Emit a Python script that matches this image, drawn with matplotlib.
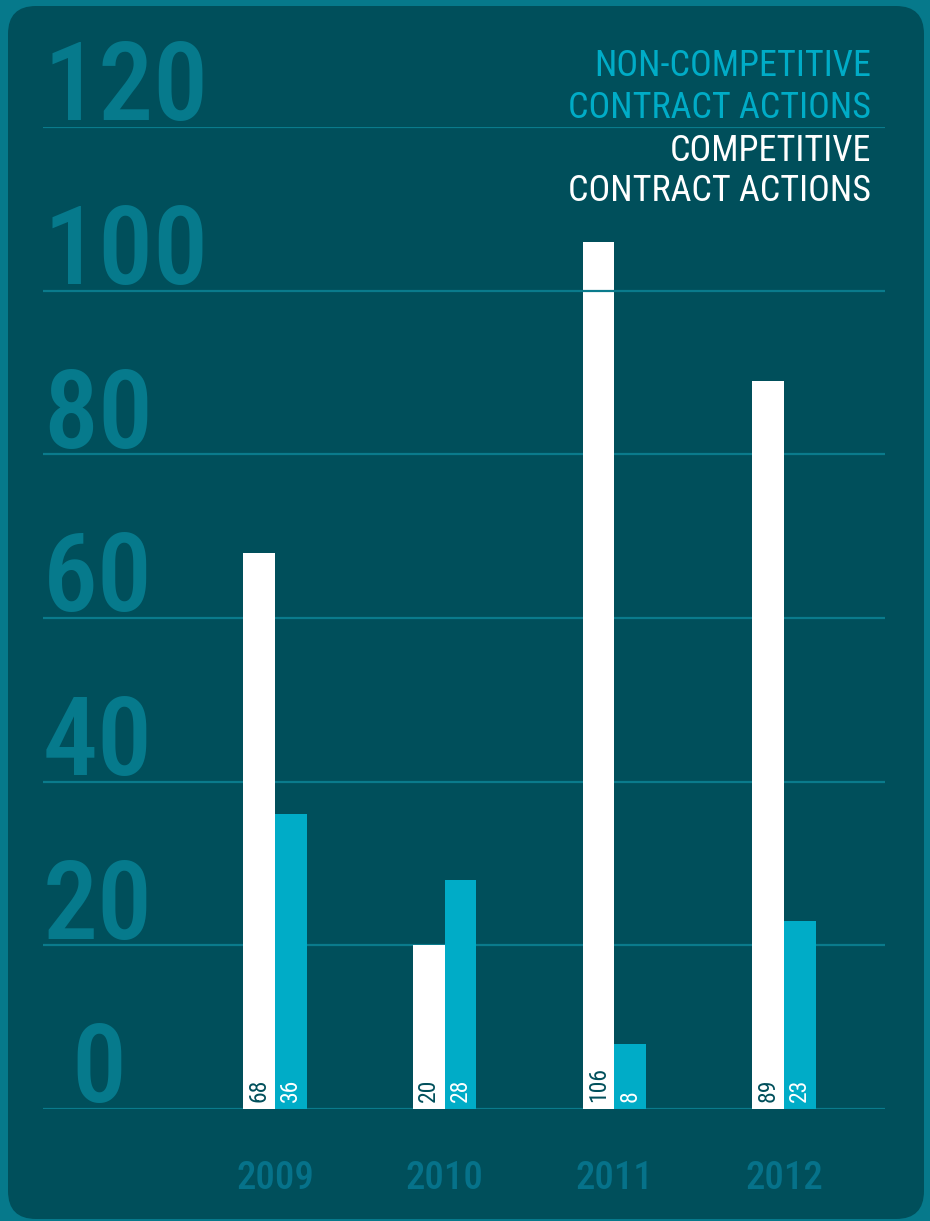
import matplotlib.pyplot as plt
import matplotlib.transforms as mtransforms
from matplotlib.patches import FancyBboxPatch
import numpy as np

# Data
years = ['2009', '2010', '2011', '2012']
competitive = [68, 20, 106, 89]
non_competitive = [36, 28, 8, 23]
y_ticks = [0, 20, 40, 60, 80, 100, 120]

frame_col = '#06798b'
panel_col = '#004f5b'
grid_col = '#0a7b8c'
cyan = '#00acc7'
label_col = '#067a8c'
year_col = '#06728a'

plt.rcParams['font.family'] = ['Roboto Condensed', 'Roboto', 'DejaVu Sans']

fig = plt.figure(figsize=(9.3, 12.21), dpi=100)
fig.patch.set_facecolor(frame_col)

# rounded dark panel, drawn in pixel units
bg = fig.add_axes([0, 0, 1, 1])
bg.set_xlim(0, 930)
bg.set_ylim(1221, 0)
bg.axis('off')
bg.add_patch(FancyBboxPatch((8, 6), 916, 1213,
                            boxstyle='round,pad=0,rounding_size=28',
                            fc=panel_col, ec='none'))

ax = fig.add_axes([43 / 930, 1 - 1109 / 1221, (885 - 43) / 930, (1109 - 127) / 1221])
ax.set_facecolor('none')
ax.set_ylim(0, 120)
ax.set_xlim(-1.367, 3.595)
for s in ax.spines.values():
    s.set_visible(False)
ax.set_xticks([])
ax.set_yticks([])

x = np.arange(len(years))
w = 0.186
ax.bar(x - w / 2, competitive, width=w, color='white', zorder=2)
ax.bar(x + w / 2, non_competitive, width=w, color=cyan, zorder=2)

# grid lines; the top two sit over the bars like in the original
for v in y_ticks:
    ax.axhline(v, color=grid_col, lw=1.6, zorder=3 if v >= 100 else 1)

# big y labels
trans = mtransforms.blended_transform_factory(ax.transAxes, ax.transData)
for v in y_ticks:
    xpos = 0.034 if v == 0 else 0.0
    ax.text(xpos, v + 0.8, str(v), transform=trans, ha='left', va='baseline',
            fontsize=79, fontweight='medium', color=label_col, clip_on=False, zorder=0)

# value labels inside bars
for i in range(len(years)):
    ax.text(x[i] - w / 2, 0.85, str(competitive[i]), rotation=90, ha='center',
            va='bottom', fontsize=17, color=panel_col, zorder=4)
    ax.text(x[i] + w / 2, 0.85, str(non_competitive[i]), rotation=90, ha='center',
            va='bottom', fontsize=17, color='white', zorder=4)

# year labels
for i, yr in enumerate(years):
    ax.text(x[i], -9.8, yr, ha='center', va='baseline', fontsize=28,
            fontweight='medium', color=year_col, clip_on=False)

# legend text
leg_x = 871 / 930
fig.text(leg_x, 1 - 76 / 1221, 'NON-COMPETITIVE', ha='right', va='baseline',
         fontsize=26, color=cyan)
fig.text(leg_x, 1 - 118 / 1221, 'CONTRACT ACTIONS', ha='right', va='baseline',
         fontsize=26, color=cyan)
fig.text(leg_x, 1 - 161 / 1221, 'COMPETITIVE', ha='right', va='baseline',
         fontsize=26, color='white')
fig.text(leg_x, 1 - 201 / 1221, 'CONTRACT ACTIONS', ha='right', va='baseline',
         fontsize=26, color='white')

fig.savefig('out.png', dpi=100, facecolor=fig.get_facecolor())
